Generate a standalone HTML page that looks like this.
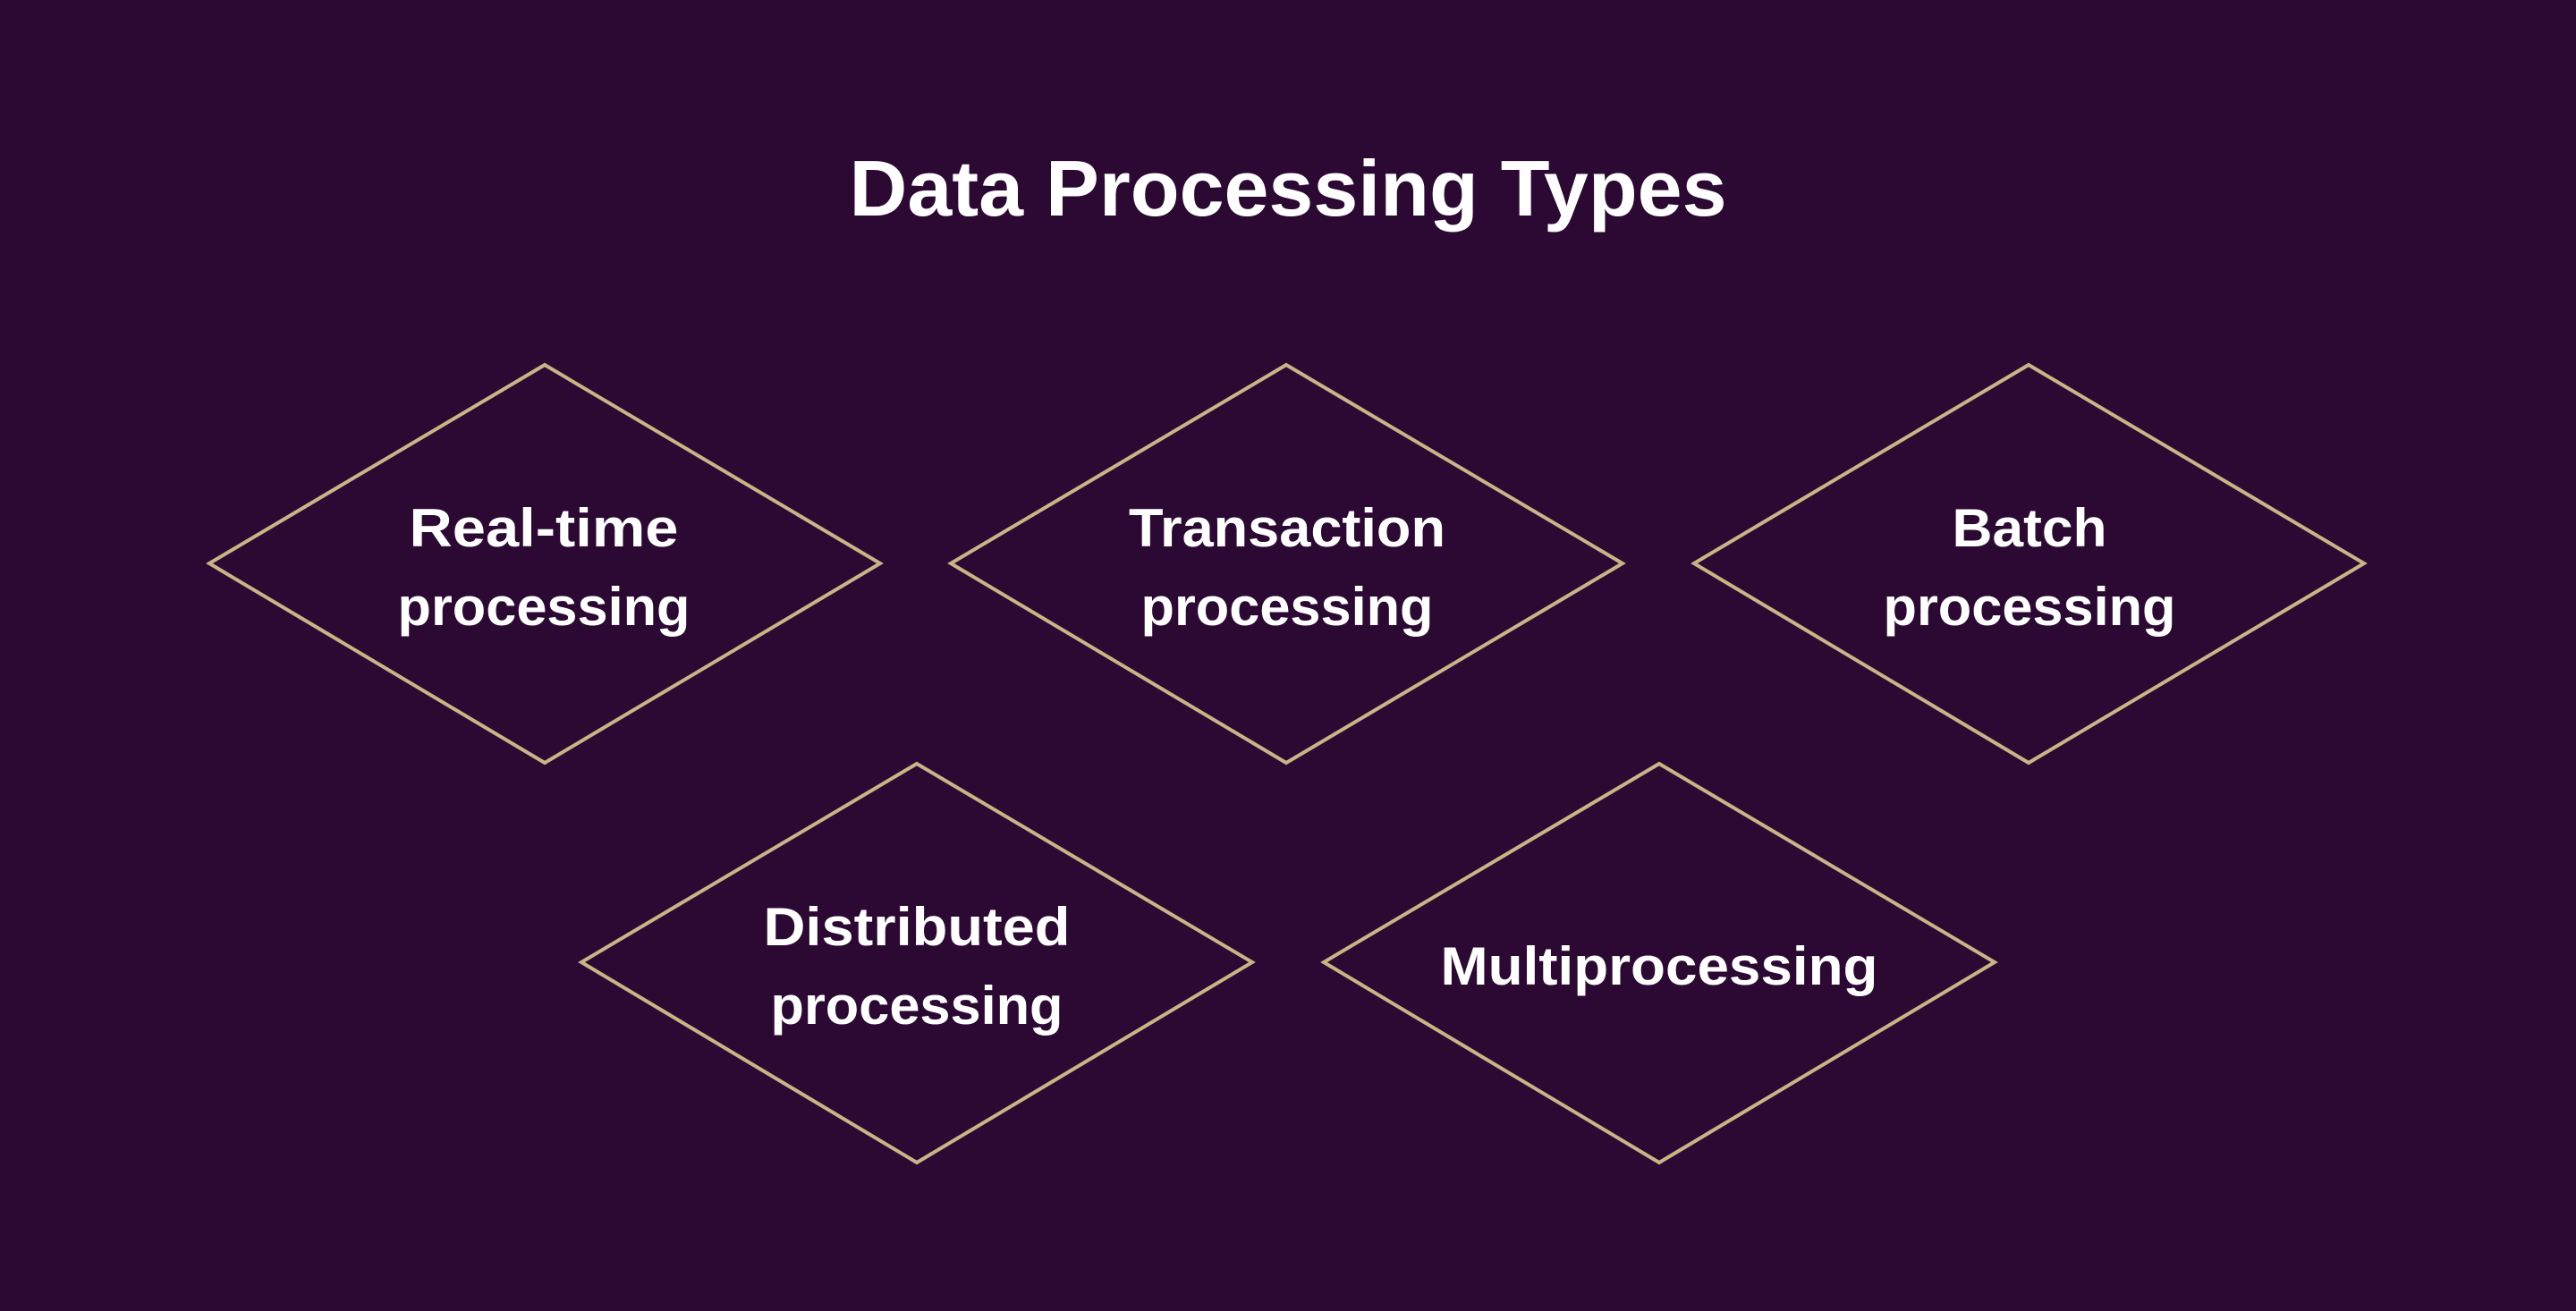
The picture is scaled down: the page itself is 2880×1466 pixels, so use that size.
<!DOCTYPE html>
<html><head><meta charset="utf-8"><style>
html,body{margin:0;padding:0;background:#2c0933;}
svg{display:block;}
text{font-family:"Liberation Sans",sans-serif;font-weight:bold;fill:#ffffff;text-anchor:middle;}
</style></head><body>
<svg width="2880" height="1466" viewBox="0 0 2880 1466" xmlns="http://www.w3.org/2000/svg">
<rect width="2880" height="1466" fill="#2c0933"/>
<text x="1440" y="241" font-size="88" textLength="981" lengthAdjust="spacingAndGlyphs">Data Processing Types</text>
<g fill="none" stroke="#c8b587" stroke-width="4" stroke-linejoin="miter">
<polygon points="609,408 984,630 609,853 234,630"/>
<polygon points="1438,408 1814,630 1438,853 1063,630"/>
<polygon points="2268,408 2643,630 2268,853 1894,630"/>
<polygon points="1025,854 1400,1076 1025,1300 650,1076"/>
<polygon points="1855,854 2230,1076 1855,1300 1480,1076"/>
</g>
<g font-size="60">
<text x="608" y="611" textLength="301" lengthAdjust="spacingAndGlyphs">Real-time</text>
<text x="608" y="699" textLength="327" lengthAdjust="spacingAndGlyphs">processing</text>
<text x="1439" y="611" textLength="354" lengthAdjust="spacingAndGlyphs">Transaction</text>
<text x="1439" y="699" textLength="327" lengthAdjust="spacingAndGlyphs">processing</text>
<text x="2269" y="611" textLength="173" lengthAdjust="spacingAndGlyphs">Batch</text>
<text x="2269" y="699" textLength="327" lengthAdjust="spacingAndGlyphs">processing</text>
<text x="1025" y="1057" textLength="343" lengthAdjust="spacingAndGlyphs">Distributed</text>
<text x="1025" y="1145" textLength="327" lengthAdjust="spacingAndGlyphs">processing</text>
<text x="1855" y="1101" textLength="489" lengthAdjust="spacingAndGlyphs">Multiprocessing</text>
</g>
</svg>
</body></html>
